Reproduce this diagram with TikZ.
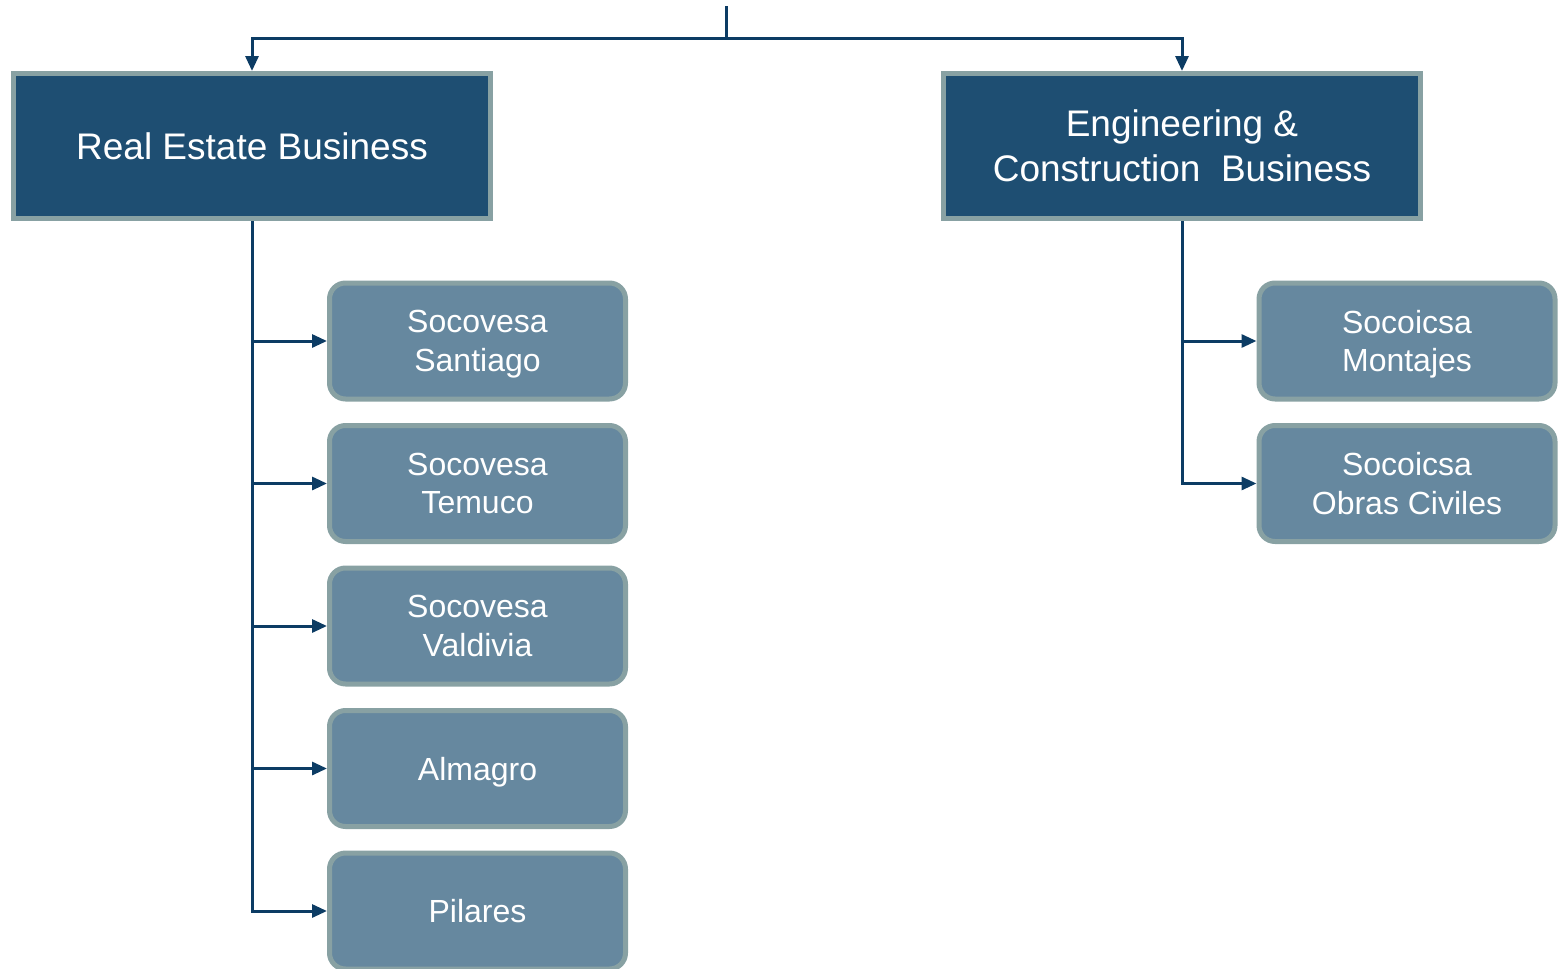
\documentclass[tikz,border=0pt]{standalone}
\usepackage{fontspec}
\setmainfont{Liberation Sans}
\usetikzlibrary{arrows.meta}

\definecolor{unitblue}{RGB}{30,78,114}
\definecolor{firmblue}{RGB}{102,136,159}
\definecolor{edgegrey}{RGB}{136,161,163}
\definecolor{linkblue}{RGB}{12,60,100}

\begin{document}
\begin{tikzpicture}[x=1pt, y=-1pt,
    unit/.style={draw=edgegrey, fill=unitblue, line width=5pt, text=white,
      minimum width=477pt, minimum height=145pt, align=center,
      font=\fontsize{37}{44.5}\selectfont},
    firm/.style={draw=edgegrey, fill=firmblue, line width=5pt, text=white,
      rounded corners=16pt, minimum width=296pt, minimum height=116pt,
      align=center, text depth=0pt, font=\fontsize{32}{38.5}\selectfont},
    link/.style={draw=linkblue, line width=3pt},
    tip/.style={-{Triangle[length=15pt, width=13pt]}}]
  \useasboundingbox (0,0) rectangle (1558,969);
  % pixel grid: 1pt = 1px, y grows downwards
  \def\lcol{477.5}   % centre of the left column of firms
  \def\rcol{1407}    % centre of the right column of firms
  \def\rowgap{142.5}

  % top level
  \coordinate (top) at (726,6);
  \coordinate (split) at (726,38);
  \node[unit] (realestate) at (252,146) {Real Estate Business};
  \node[unit] (engineering) at (1182,146) {Engineering \&\\Construction~ Business};

  % real estate firms
  \node[firm] (santiago) at (\lcol,341) {Socovesa\\Santiago};
  \node[firm] (temuco) at (\lcol,341+\rowgap) {Socovesa\\Temuco};
  \node[firm] (valdivia) at (\lcol,341+2*\rowgap) {Socovesa\\Valdivia};
  \node[firm] (almagro) at (\lcol,341+3*\rowgap) {Almagro};
  \node[firm] (pilares) at (\lcol,341+4*\rowgap) {Pilares};

  % engineering firms
  \node[firm] (montajes) at (\rcol,341) {Socoicsa\\Montajes};
  \node[firm] (obras) at (\rcol,341+\rowgap) {Socoicsa\\Obras Civiles};

  % connectors
  \draw[link] (top) -- (split);
  \draw[link, tip] (split) -| (realestate.north);
  \draw[link, tip] (split) -| (engineering.north);
  \foreach \f in {santiago,temuco,valdivia,almagro,pilares}
    \draw[link, tip] (realestate.south) |- (\f.west);
  \foreach \f in {montajes,obras}
    \draw[link, tip] (engineering.south) |- (\f.west);
\end{tikzpicture}
\end{document}
